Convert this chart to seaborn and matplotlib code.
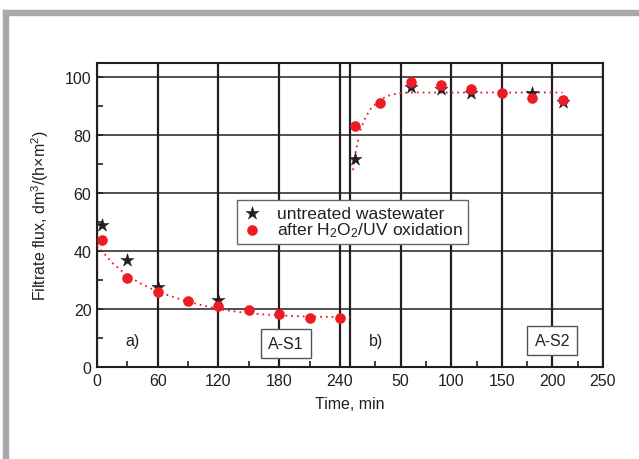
import numpy as np
import pandas as pd
import seaborn as sns
import matplotlib.pyplot as plt
from matplotlib.patches import Rectangle

# data: left panel (a) time 0..250, right panel (b) time 0..250 drawn shifted by 250
a_star_t = [5, 30, 60, 120]
a_star_y = [49.1, 36.9, 27.5, 23.2]
a_dot_t = [5, 30, 60, 90, 120, 150, 180, 210, 240]
a_dot_y = [44.0, 30.6, 26.0, 22.9, 21.1, 19.8, 18.2, 16.8, 16.8]
a_fit_t = [0, 15, 30, 45, 60, 90, 120, 150, 180, 210, 250]
a_fit_y = [42.0, 36.0, 31.5, 28.5, 26.0, 22.5, 20.0, 18.5, 17.8, 17.4, 17.2]

b_star_t = [5, 60, 90, 120, 180, 210]
b_star_y = [71.7, 96.8, 96.1, 94.6, 94.5, 91.5]
b_dot_t = [5, 30, 60, 90, 120, 150, 180, 210]
b_dot_y = [83.1, 91.3, 98.6, 97.5, 96.0, 94.5, 92.9, 92.1]
b_fit_t = [3, 6, 10, 15, 20, 30, 40, 50, 60, 90, 120, 150, 180, 210]
b_fit_y = [68.0, 75.0, 81.5, 86.0, 89.0, 92.4, 94.0, 94.6, 94.8, 94.8, 94.8, 94.8, 94.8, 94.8]

shift = 250
xtick_pos = [0, 60, 120, 180, 240, 300, 350, 400, 450, 500]
xtick_lab = ["0", "60", "120", "180", "240", "50", "100", "150", "200", "250"]
xminor = [30, 90, 150, 210, 275, 325, 375, 425, 475]

red = "#ec1c24"
ink = "#231f20"

stars = pd.DataFrame({"t": a_star_t + [shift + t for t in b_star_t], "y": a_star_y + b_star_y})
dots = pd.DataFrame({"t": a_dot_t + [shift + t for t in b_dot_t], "y": a_dot_y + b_dot_y})
fit_a = pd.DataFrame({"t": a_fit_t, "y": a_fit_y})
fit_b = pd.DataFrame({"t": [shift + t for t in b_fit_t], "y": b_fit_y})

sns.set_style("ticks")
plt.rcParams['font.family'] = ['Liberation Sans', 'DejaVu Sans']
plt.rcParams['mathtext.fontset'] = 'custom'
plt.rcParams['mathtext.rm'] = 'Liberation Sans'
plt.rcParams['mathtext.it'] = 'Liberation Sans'

fig = plt.figure(figsize=(6.39, 4.6), dpi=100)
ax = fig.add_axes([97 / 639, 92 / 460, 506 / 639, 304 / 460])

# gray frame of the page
fig.patches.append(Rectangle((3 / 639, 444 / 460), 1, 5 / 460, transform=fig.transFigure,
                             color="#a7a9ac", zorder=0))
fig.patches.append(Rectangle((3 / 639, 0), 5 / 639, 449 / 460, transform=fig.transFigure,
                             color="#a7a9ac", zorder=0))

sns.lineplot(data=fit_a, x="t", y="y", ax=ax, color=red, linestyle=(0, (1, 2.2)), lw=1.3, zorder=3)
sns.lineplot(data=fit_b, x="t", y="y", ax=ax, color=red, linestyle=(0, (1, 2.2)), lw=1.3, zorder=3)
sns.scatterplot(data=stars, x="t", y="y", ax=ax, marker="*", s=100, color=ink, edgecolor=ink,
                linewidth=0.3, zorder=4, label="untreated wastewater")
sns.scatterplot(data=dots, x="t", y="y", ax=ax, marker="o", s=58, color=red, edgecolor=red,
                linewidth=0, zorder=5, label="after H$_2$O$_2$/UV oxidation")

ax.set_xlim(0, 500)
ax.set_ylim(0, 105)
ax.set_xticks(xtick_pos)
ax.set_xticklabels(xtick_lab)
ax.set_xticks(xminor, minor=True)
ax.set_yticks([0, 20, 40, 60, 80, 100])
ax.set_yticks([10, 30, 50, 70, 90], minor=True)
ax.tick_params(which="major", length=0, labelsize=11.5, colors=ink, pad=4)
ax.tick_params(which="minor", direction="in", length=4, width=1.2, color=ink)
ax.tick_params(axis="y", which="major", direction="in", length=4, width=1.2)
ax.grid(axis="x", which="major", color=ink, lw=1.6)
ax.grid(axis="y", which="major", color=ink, lw=1.1)
ax.axvline(shift, color=ink, lw=1.6)
for s in ax.spines.values():
    s.set_visible(True)
    s.set_color(ink)
    s.set_linewidth(1.5)

ax.set_xlabel("Time, min", fontsize=11.5, color=ink, labelpad=6)
ax.set_ylabel("Filtrate flux, dm$^3$/(h×m$^2$)", fontsize=11.5, color=ink, labelpad=10)

ax.text(35, 9.3, "a)", fontsize=11.5, color=ink, ha="center", va="center")
ax.text(276, 9.3, "b)", fontsize=11.5, color=ink, ha="center", va="center")
box = dict(boxstyle="square,pad=0.45", fc="white", ec="#555555", lw=1)
ax.text(187, 8.1, "A-S1", fontsize=11.5, color=ink, ha="center", va="center", bbox=box, zorder=6)
ax.text(450, 9.1, "A-S2", fontsize=11.5, color=ink, ha="center", va="center", bbox=box, zorder=6)

leg = ax.legend(loc="upper left", bbox_to_anchor=((237 - 97) / 506, (368 - 201) / 304),
                fontsize=12.6, frameon=True, fancybox=False, borderpad=0.3,
                handletextpad=0.9, labelspacing=0.0, handlelength=1.1, borderaxespad=0)
leg.get_frame().set_edgecolor("#666666")
leg.get_frame().set_linewidth(1)
leg.get_frame().set_alpha(1)
leg.set_zorder(7)
for txt in leg.get_texts():
    txt.set_color(ink)

fig.savefig("out.png", dpi=100)
